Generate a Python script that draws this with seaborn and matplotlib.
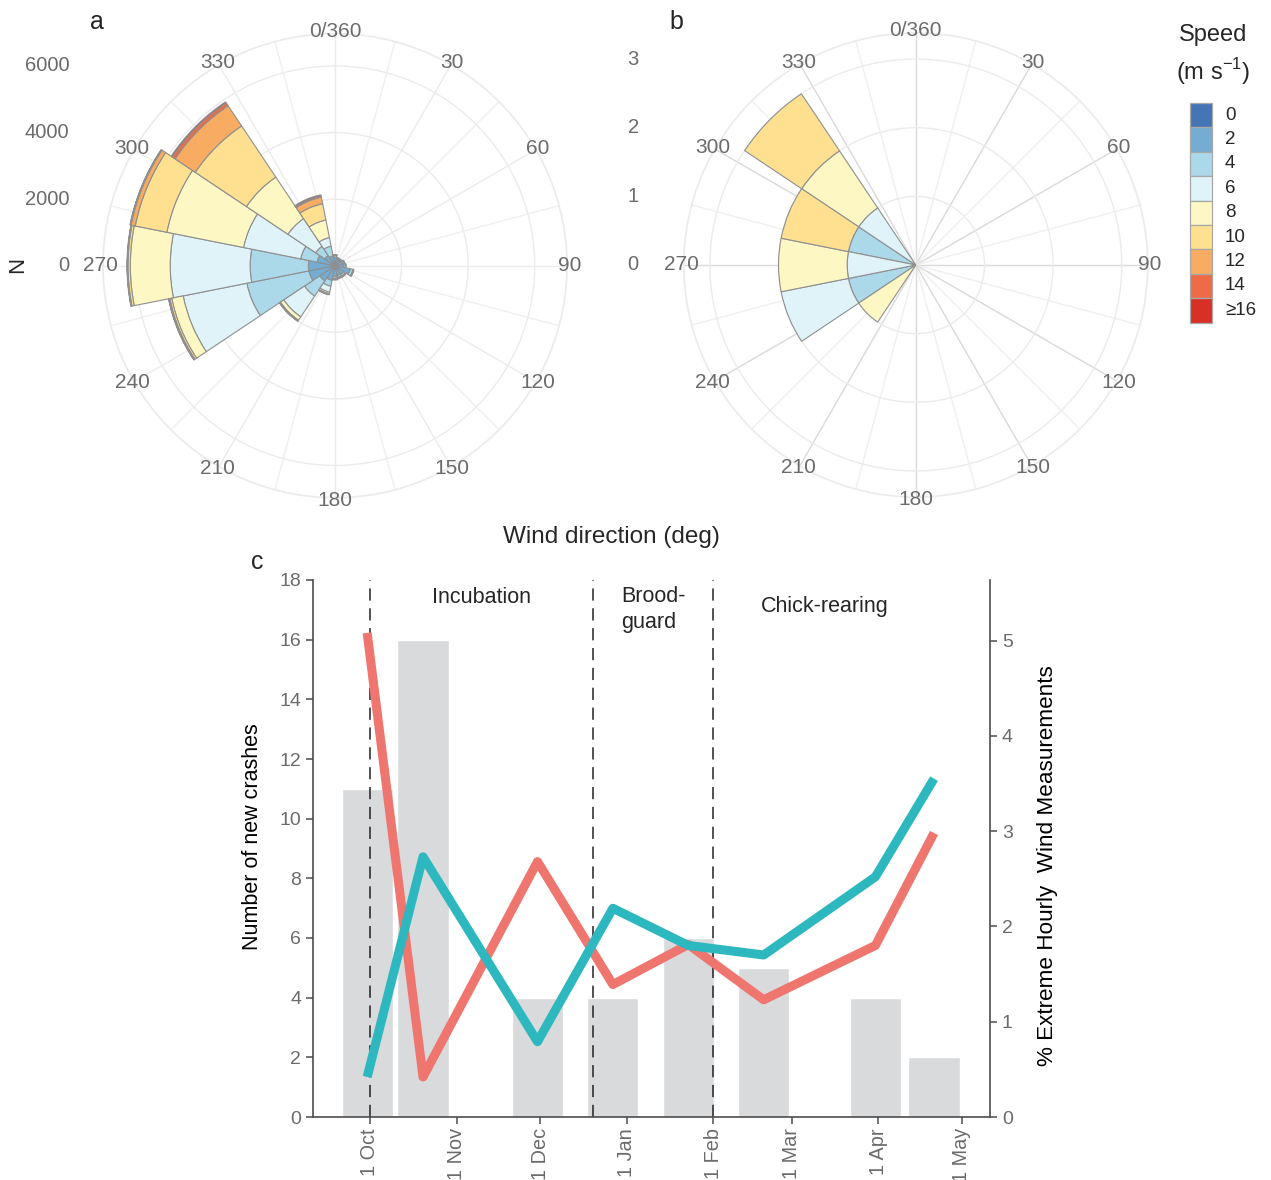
import numpy as np
import pandas as pd
import seaborn as sns
import matplotlib.pyplot as plt
import matplotlib.dates as mdates
from matplotlib.patches import Rectangle

sns.set_theme(style='ticks')
plt.rcParams['font.family'] = ['Liberation Sans', 'DejaVu Sans']
plt.rcParams['mathtext.fontset'] = 'custom'
plt.rcParams['mathtext.rm'] = 'Liberation Sans'

# ---- wind rose data (16 direction bins, from N clockwise) ----
directions = np.arange(0, 360, 22.5)
speed_labels = ['0', '2', '4', '6', '8', '10', '12', '14', '≥16']
speed_colors = ['#4575b4', '#74add1', '#abd9e9', '#e0f3f8', '#fdf7c3',
                '#fee090', '#f7ac62', '#ef6b46', '#d73027']

# panel a: all hourly records
a_s0 = [30, 20, 20, 20, 20, 20, 20, 20, 20, 30, 30, 30, 30, 30, 20, 20]
a_s2 = [220, 180, 180, 220, 250, 450, 300, 280, 300, 420, 520, 770, 770, 520, 350, 280]
a_s4 = [50, 40, 40, 50, 50, 80, 60, 60, 60, 180, 550, 1900, 1750, 500, 330, 300]
a_s6 = [20, 10, 10, 10, 10, 20, 20, 30, 30, 180, 750, 1950, 2400, 1750, 1000, 260]
a_s8 = [10, 0, 0, 0, 0, 10, 10, 10, 20, 50, 120, 350, 1200, 2350, 1500, 540]
a_s10 = [0, 0, 0, 0, 0, 0, 0, 0, 0, 20, 30, 60, 70, 970, 1850, 500]
a_s12 = [0, 0, 0, 0, 0, 0, 0, 0, 0, 10, 10, 30, 20, 130, 730, 200]
a_s14 = [0, 0, 0, 0, 0, 0, 0, 0, 0, 0, 0, 10, 10, 20, 100, 30]
a_s16 = [0, 0, 0, 0, 0, 0, 0, 0, 0, 0, 0, 0, 0, 10, 40, 40]

# panel b: records at crash times
b_s0 = [0] * 16
b_s2 = [0] * 16
b_s4 = [0, 0, 0, 0, 0, 0, 0, 0, 0, 0, 0, 1, 0, 1, 0, 0]
b_s6 = [0, 0, 0, 0, 0, 0, 0, 0, 0, 0, 0, 1, 1, 0, 1, 0]
b_s8 = [0, 0, 0, 0, 0, 0, 0, 0, 0, 0, 1, 0, 1, 0, 1, 0]
b_s10 = [0, 0, 0, 0, 0, 0, 0, 0, 0, 0, 0, 0, 0, 1, 1, 0]
b_s12 = [0] * 16
b_s14 = [0] * 16
b_s16 = [0] * 16

angle_ticks = list(range(0, 360, 30))
angle_labels = ['0/360'] + [str(a) for a in angle_ticks[1:]]

# ---- panel c data ----
bar_dates = ['2014-09-30', '2014-10-20', '2014-11-30', '2014-12-27',
             '2015-01-23', '2015-02-19', '2015-03-31', '2015-04-21']
new_crashes = [11, 16, 4, 4, 6, 5, 4, 2]
pct_red = [5.08, 0.42, 2.68, 1.39, 1.81, 1.23, 1.80, 2.98]
pct_teal = [0.42, 2.73, 0.79, 2.19, 1.80, 1.70, 2.52, 3.55]
phase_dates = ['2014-10-01', '2014-12-20', '2015-02-01']
month_ticks = ['2014-10-01', '2014-11-01', '2014-12-01', '2015-01-01',
               '2015-02-01', '2015-03-01', '2015-04-01', '2015-05-01']
month_labels = ['1 Oct', '1 Nov', '1 Dec', '1 Jan', '1 Feb', '1 Mar', '1 Apr', '1 May']

GRAY_TXT = '#6b6b6b'
W, H = 1271, 1180

fig = plt.figure(figsize=(W / 100, H / 100), dpi=100)


def rose(ax, layers, rmax, rticks, major_col):
    ax.set_theta_zero_location('N')
    ax.set_theta_direction(-1)
    ax.set_ylim(0, rmax)
    ax.set_xticks([])
    ax.set_yticks([])
    ax.grid(False)
    ax.spines['polar'].set_color('#ebebeb')
    ax.set_facecolor('white')
    # grid
    for d in range(0, 360, 15):
        col = major_col if d % 30 == 0 else '#efefef'
        ax.plot([np.deg2rad(d)] * 2, [0, rmax], color=col, lw=1.0, zorder=0.5)
    circ = np.linspace(0, 2 * np.pi, 361)
    for r in rticks[1:]:
        ax.plot(circ, [r] * len(circ), color='#ebebeb', lw=1.0, zorder=0.5)
    # stacked bars
    theta = np.deg2rad(directions)
    width = np.deg2rad(22.5)
    bottom = np.zeros(len(directions))
    for vals, col in zip(layers, speed_colors):
        vals = np.asarray(vals, dtype=float)
        m = vals > 0
        if m.any():
            ax.bar(theta[m], vals[m], width=width, bottom=bottom[m], color=col,
                   edgecolor='#8f8f8f', linewidth=0.8, zorder=2)
        bottom += vals
    # angle labels
    for d, lab in zip(angle_ticks, angle_labels):
        ax.text(np.deg2rad(d), rmax * 1.01, lab, ha='center', va='center',
                fontsize=15, color=GRAY_TXT)
    return ax


ax_a = fig.add_axes([103 / W, 1 - 497.7 / H, 464 / W, 464 / H], projection='polar')
rose(ax_a, [a_s0, a_s2, a_s4, a_s6, a_s8, a_s10, a_s12, a_s14, a_s16],
     6970, [0, 2000, 4000, 6000], '#ebebeb')
for r, lab in zip([0, 2000, 4000, 6000], ['0', '2000', '4000', '6000']):
    ax_a.text(-0.073, 0.5 + 0.5 * r / 6970, lab, transform=ax_a.transAxes,
              ha='right', va='center', fontsize=14.5, color=GRAY_TXT)

ax_b = fig.add_axes([683.8 / W, 1 - 497 / H, 464 / W, 464 / H], projection='polar')
rose(ax_b, [b_s0, b_s2, b_s4, b_s6, b_s8, b_s10, b_s12, b_s14, b_s16],
     3.38, [0, 1, 2, 3], '#d9d9d9')
for r, lab in zip([0, 1, 2, 3], ['0', '1', '2', '3']):
    ax_b.text(-0.097, 0.5 + 0.5 * r / 3.38, lab, transform=ax_b.transAxes,
              ha='right', va='center', fontsize=14.5, color=GRAY_TXT)

fig.text(18 / W, 1 - 265 / H, 'N', rotation=90, ha='center', va='center', fontsize=16)
fig.text(97 / W, 1 - 22 / H, 'a', ha='center', va='center', fontsize=18)
fig.text(676 / W, 1 - 22 / H, 'b', ha='center', va='center', fontsize=18)
fig.text(611 / W, 1 - 537 / H, 'Wind direction (deg)', ha='center', va='center', fontsize=17.5)

# speed key
fig.text(1213 / W, 1 - 35 / H, 'Speed', ha='center', va='center', fontsize=17)
fig.text(1213 / W, 1 - 72 / H, '(m s$^{\\mathregular{-1}}$)', ha='center', va='center',
         fontsize=17)
box_h = 24.4
for i, (col, lab) in enumerate(zip(speed_colors, speed_labels)):
    top = 103 + i * box_h
    fig.patches.append(Rectangle((1190 / W, 1 - (top + box_h) / H), 22 / W, box_h / H,
                                 transform=fig.transFigure, facecolor=col,
                                 edgecolor='#a8a8a8', linewidth=0.9))
    fig.text(1225 / W, 1 - (top + box_h / 2) / H, lab, ha='left', va='center',
             fontsize=13.5)

# ---- panel c ----
ax = fig.add_axes([313 / W, 63 / H, 677 / W, 537 / H])
xb = mdates.date2num(pd.to_datetime(bar_dates))
ax.bar(xb, new_crashes, width=18.3, color='#d9dadc', zorder=1)
for d in mdates.date2num(pd.to_datetime(phase_dates)):
    ax.axvline(d, color='#222222', lw=1.1, dashes=(8, 5), zorder=2)
ax.set_ylim(0, 18)
ax.set_yticks(range(0, 19, 2))
x0 = mdates.date2num(pd.Timestamp('2014-10-01'))
ax.set_xlim(x0 - 20.4, x0 + 222.05)
ax.set_xticks(mdates.date2num(pd.to_datetime(month_ticks)))
ax.set_xticklabels(month_labels, rotation=90)
ax.set_ylabel('Number of new crashes', fontsize=15.5, color='black')
ax.yaxis.set_label_coords(-0.074, 0.523)

ax2 = ax.twinx()
sns.lineplot(x=xb, y=pct_red, ax=ax2, color='#ef766e', linewidth=6.5, sort=False,
             solid_capstyle='butt')
sns.lineplot(x=xb, y=pct_teal, ax=ax2, color='#2db8bf', linewidth=6.5, sort=False,
             solid_capstyle='butt')
ax2.set_ylim(0, 5.635)
ax2.set_yticks(range(0, 6))
ax2.set_ylabel('% Extreme Hourly  Wind Measurements', fontsize=16.2, color='black',
               rotation=90)
ax2.yaxis.set_label_coords(1.069, 0.469)

for a in (ax, ax2):
    a.spines['top'].set_visible(False)
    for s in a.spines.values():
        s.set_color('#4d4d4d')
        s.set_linewidth(1.2)
    a.tick_params(labelcolor=GRAY_TXT, color='#4d4d4d', length=5, width=1.1,
                  labelsize=14)
ax.tick_params(axis='x', labelsize=14.3, pad=3)
ax.spines['right'].set_visible(False)
ax2.spines['left'].set_visible(False)
ax2.spines['bottom'].set_visible(False)

ax.text(x0 + 40, 17.4, 'Incubation', ha='center', va='center', fontsize=15.5)
ax.text(x0 + 90, 17.0, 'Brood-\nguard', ha='left', va='center', fontsize=15.5,
        linespacing=1.3)
ax.text(x0 + 163, 17.1, 'Chick-rearing', ha='center', va='center', fontsize=15.5)
fig.text(257 / W, 1 - 562 / H, 'c', ha='center', va='center', fontsize=18)

fig.savefig('out.png', dpi=100)
